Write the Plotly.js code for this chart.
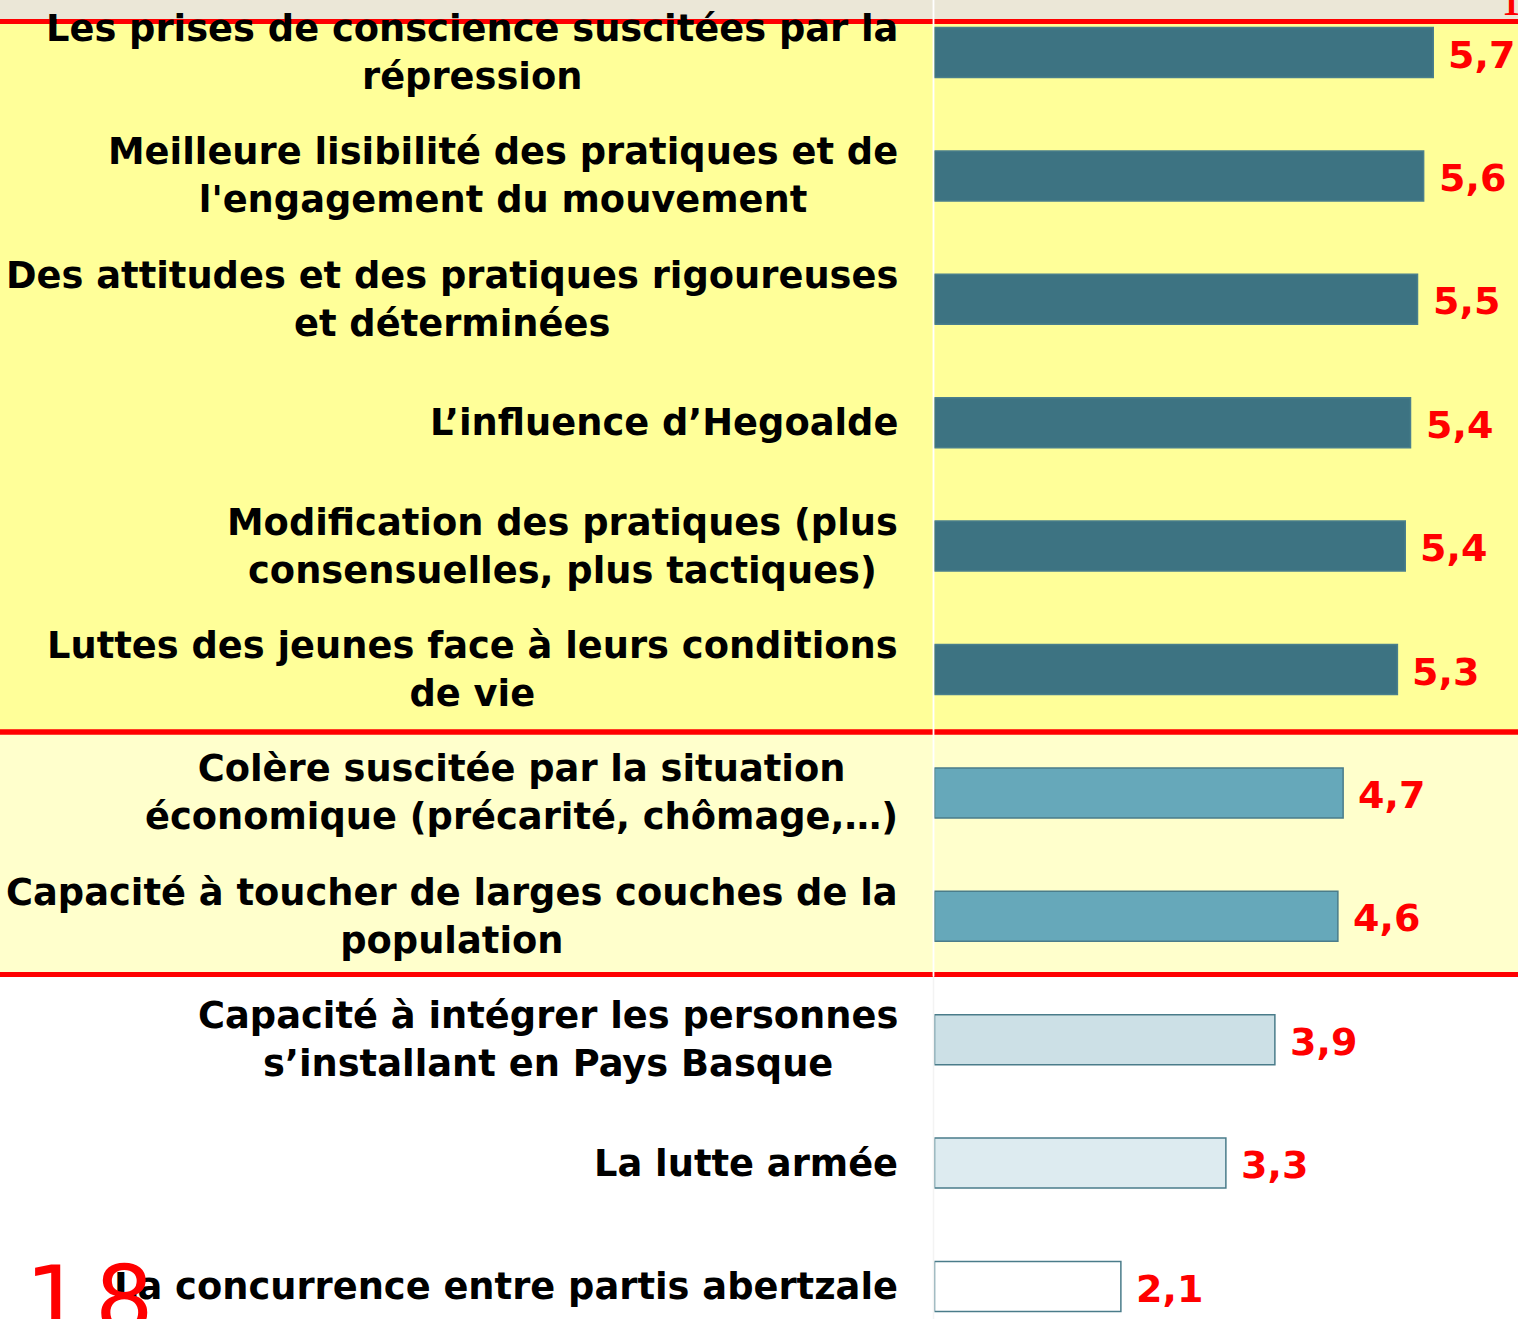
<!DOCTYPE html>
<html>
<head>
<meta charset="utf-8">
<script src="https://cdn.plot.ly/plotly-3.0.1.min.js"></script>
<style>html,body{margin:0;padding:0;background:#fff;overflow:hidden}</style>
</head>
<body>
<div id="chart" style="width:1518px;height:1319px"></div>
<script>
// ---- data ----
const categories = [
  "Les prises de conscience suscitées par la<br>répression",
  "Meilleure lisibilité des pratiques et de<br>l'engagement du mouvement",
  "Des attitudes et des pratiques rigoureuses<br>et déterminées",
  "L’influence d’Hegoalde",
  "Modification des pratiques (plus<br>consensuelles, plus tactiques)",
  "Luttes des jeunes face à leurs conditions<br>de vie",
  "Colère suscitée par la situation<br>économique (précarité, chômage,…)",
  "Capacité à toucher de larges couches de la<br>population",
  "Capacité à intégrer les personnes<br>s’installant en Pays Basque",
  "La lutte armée",
  "La concurrence entre partis abertzale"
];
const values = [5.70, 5.59, 5.52, 5.44, 5.38, 5.29, 4.67, 4.61, 3.89, 3.33, 2.13];
const valueLabels = ["5,7", "5,6", "5,5", "5,4", "5,4", "5,3", "4,7", "4,6", "3,9", "3,3", "2,1"];
const barColors = ["#3D7382", "#3D7382", "#3D7382", "#3D7382", "#3D7382", "#3D7382",
                   "#66A8BA", "#66A8BA", "#CCE0E6", "#DDEBF0", "#FFFFFF"];
const barLines = ["#4A7F8C", "#4A7F8C", "#4A7F8C", "#4A7F8C", "#4A7F8C", "#4A7F8C",
                  "#4A7C8A", "#4A7C8A", "#4A7C8A", "#4A7C8A", "#4A7C8A"];
const slideNumber = ["1", "8"];

// ---- geometry helpers ----
const W = 1518, H = 1319;
const px = v => v / W;
const py = v => 1 - v / H;

const trace = {
  type: "bar",
  orientation: "h",
  y: categories,
  x: values,
  width: 0.405,
  marker: { color: barColors, line: { color: barLines, width: 1.5 } },
  hoverinfo: "skip",
  showlegend: false
};

const labelFont = { family: "DejaVu Sans, Verdana, sans-serif", size: 36.8, color: "#000", weight: "bold" };
const valueFont = { family: "DejaVu Sans, Verdana, sans-serif", size: 38, color: "#FF0000", weight: "bold" };

const annotations = [];
categories.forEach((c, i) => {
  annotations.push({
    xref: "paper", yref: "y", x: px(900), y: c,
    xanchor: "right", yanchor: "middle", align: "center",
    text: c, showarrow: false, font: labelFont
  });
  annotations.push({
    xref: "x", yref: "y", x: values[i], y: c,
    xanchor: "left", yanchor: "middle", xshift: 13, yshift: -2,
    text: valueLabels[i], showarrow: false, font: valueFont
  });
});
// slide number (cut off at the bottom)
annotations.push({
  xref: "paper", yref: "paper", x: px(54), y: py(1245), xanchor: "center", yanchor: "top",
  text: slideNumber[0], showarrow: false,
  font: { family: "DejaVu Sans, sans-serif", size: 92, color: "#FF0000" }
});
annotations.push({
  xref: "paper", yref: "paper", x: px(124), y: py(1245), xanchor: "center", yanchor: "top",
  text: slideNumber[1], showarrow: false,
  font: { family: "DejaVu Sans, sans-serif", size: 92, color: "#FF0000" }
});
// partial glyph at top right
annotations.push({
  xref: "paper", yref: "paper", x: px(1511), y: py(25), xanchor: "center", yanchor: "bottom",
  text: "1", showarrow: false,
  font: { family: "Liberation Serif, serif", size: 36, color: "#FF0000", weight: "bold" }
});

const shapes = [
  // background bands
  { type: "rect", xref: "paper", yref: "paper", x0: 0, x1: 1, y0: py(0), y1: py(21), fillcolor: "#EBE7D7", line: { width: 0 }, layer: "below" },
  { type: "rect", xref: "paper", yref: "paper", x0: 0, x1: 1, y0: py(21), y1: py(732), fillcolor: "#FFFF99", line: { width: 0 }, layer: "below" },
  { type: "rect", xref: "paper", yref: "paper", x0: 0, x1: 1, y0: py(732), y1: py(974), fillcolor: "#FFFFCC", line: { width: 0 }, layer: "below" },
  // red separators
  { type: "line", xref: "paper", yref: "paper", x0: 0, x1: 1, y0: py(21.5), y1: py(21.5), line: { color: "#FF0000", width: 5 }, layer: "below" },
  { type: "line", xref: "paper", yref: "paper", x0: 0, x1: 1, y0: py(732), y1: py(732), line: { color: "#FF0000", width: 5.5 }, layer: "below" },
  { type: "line", xref: "paper", yref: "paper", x0: 0, x1: 1, y0: py(974.5), y1: py(974.5), line: { color: "#FF0000", width: 5 }, layer: "below" },
  // vertical axis line
  { type: "line", xref: "paper", yref: "paper", x0: px(933.5), x1: px(933.5), y0: py(0), y1: py(976), line: { color: "#FFFFFF", width: 1.8 }, layer: "below" },
  { type: "line", xref: "paper", yref: "paper", x0: px(933.5), x1: px(933.5), y0: py(976), y1: py(1319), line: { color: "#F3F3F3", width: 1.5 }, layer: "below" }
];

const layout = {
  width: W, height: H,
  margin: { l: 0, r: 0, t: 0, b: 0, pad: 0 },
  paper_bgcolor: "#FFFFFF",
  plot_bgcolor: "rgba(0,0,0,0)",
  showlegend: false,
  xaxis: {
    domain: [px(934.5), 1], range: [0, (W - 934.5) / 87.5],
    showgrid: false, zeroline: false, showticklabels: false, ticks: "", showline: false, fixedrange: true
  },
  yaxis: {
    type: "category", domain: [0, 1],
    range: [-52.5 / 123.4 + H / 123.4, -52.5 / 123.4],
    showgrid: false, zeroline: false, showticklabels: false, ticks: "", showline: false, fixedrange: true
  },
  annotations: annotations,
  shapes: shapes
};

Plotly.newPlot("chart", [trace], layout, { displayModeBar: false, staticPlot: true });
</script>
</body>
</html>
